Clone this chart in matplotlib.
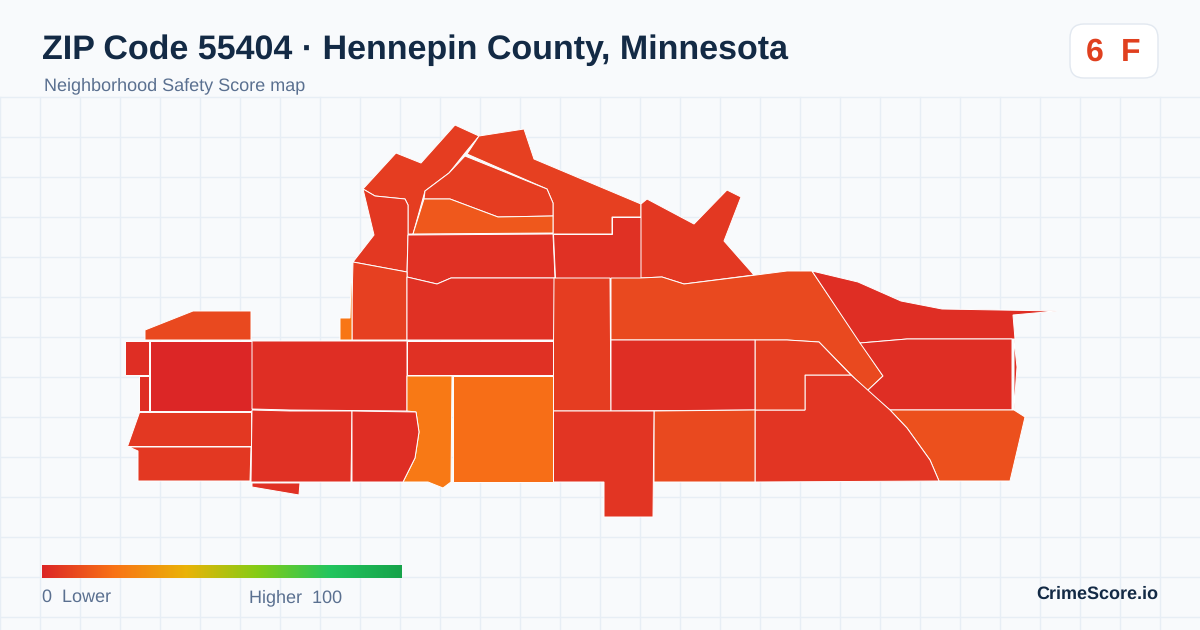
import numpy as np
import matplotlib
matplotlib.use("Agg")
import matplotlib.pyplot as plt
from matplotlib.colors import LinearSegmentedColormap
from matplotlib.patches import FancyBboxPatch, Polygon

plt.rcParams['font.family'] = ['Liberation Sans', 'DejaVu Sans']
plt.rcParams['text.hinting'] = 'none'
plt.rcParams['text.hinting_factor'] = 1

title = "ZIP Code 55404 · Hennepin County, Minnesota"
subtitle = "Neighborhood Safety Score map"
brand = "CrimeScore.io"
zip_score = "6"
zip_grade = "F"

# colour scale of the legend
scale_stops = [0.0, 0.2, 0.4, 0.6, 0.8, 1.0]
scale_colors = ["#dc2626", "#f97316", "#eab308", "#84cc16", "#22c55e", "#16a34a"]

# tract outlines (x, y in image pixels) and their scores
north_west = [(363,189),(396,153),(421,163),(455,125),(479,136),(465,153),(449,173),(425,191),(413,234),(408,234),(408,205),(405,199),(375,196)]
west_upper = [(363,189),(375,196),(405,199),(408,205),(408,234),(407,272),(353,262),(374,235)]
north_top = [(479,136),(524,129),(534,159),(641,204),(641,217),(612,217),(612,234),(553,234),(553,203),(547,189),(467,154)]
north_mid = [(465,156),(547,189),(553,203),(553,216),(498,217),(450,199),(424,199),(425,191),(449,173)]
north_wedge = [(424,199),(450,199),(498,217),(553,216),(553,233),(413,234)]
center_a = [(408,235),(553,234),(555,278),(451,278),(437,284),(407,277)]
center_b = [(553,234),(612,234),(612,217),(641,217),(641,278),(555,278)]
north_east = [(647,199),(641,204),(641,278),(662,277),(684,284),(754,275),(724,241),(741,197),(727,190),(694,224)]
west_mid = [(353,262),(407,272),(407,340),(352,340),(352,300)]
sliver_west = [(340,318),(350,318),(351,282),(352,282),(352,340),(340,340)]
center_c = [(407,277),(437,284),(451,278),(555,278),(555,340),(407,340)]
column = [(554,278),(610,278),(611,411),(553,411)]
long_arm = [(611,278),(640,278),(662,277),(684,284),(756,275),(787,271),(812,271),(883,376),(867,391),(819,342),(787,340),(699,340),(611,340)]
east_top = [(812,271),(858,282),(901,301),(942,309),(1057,311),(1013,315),(1015,339),(907,339),(860,343)]
east_mid = [(860,343),(907,339),(1012,339),(1012,410),(890,410),(867,391),(883,376)]
east_sliver = [(1014,339),(1017,367),(1014,410)]
south_east = [(890,410),(1014,410),(1025,417),(1010,481),(939,481),(930,460),(907,428)]
south_a = [(755,410),(805,410),(805,375),(851,375),(890,410),(907,428),(930,460),(939,481),(755,482)]
south_b = [(755,340),(787,340),(819,342),(851,375),(805,375),(805,410),(755,410)]
south_c = [(611,340),(755,340),(755,410),(611,411)]
south_d = [(654,411),(755,410),(755,482),(654,482)]
south_e = [(553,411),(654,411),(653,517),(604,517),(604,482),(553,482)]
far_west_top = [(145,330),(193,311),(251,311),(251,340),(145,340)]
far_west_a = [(125,341),(149,341),(149,375),(125,375)]
far_west_b = [(139,376),(149,376),(149,411),(139,411)]
far_west_c = [(150,341),(252,341),(252,411),(150,411)]
mid_west_a = [(252,341),(407,341),(407,411),(290,410),(252,409)]
mid_center = [(407,341),(553,341),(553,375),(407,375)]
orange_a = [(407,376),(452,376),(451,482),(443,488),(428,482),(403,482),(415,458),(419,432),(416,412),(407,411)]
orange_b = [(453,376),(553,376),(553,482),(453,482)]
far_west_d = [(139,412),(251,412),(251,446),(127,446)]
far_west_e = [(129,447),(251,447),(250,481),(138,481),(138,451)]
south_west_a = [(252,410),(290,411),(352,411),(351,482),(251,482)]
south_west_b = [(352,411),(416,412),(419,432),(415,458),(403,482),(352,482)]
south_west_c = [(252,483),(300,483),(299,495),(252,487)]

tracts = [north_west, west_upper, north_top, north_mid, north_wedge, center_a, center_b,
          north_east, west_mid, sliver_west, center_c, column, long_arm, east_top, east_mid,
          east_sliver, south_east, south_a, south_b, south_c, south_d, south_e, far_west_top,
          far_west_a, far_west_b, far_west_c, mid_west_a, mid_center, orange_a, orange_b,
          far_west_d, far_west_e, south_west_a, south_west_b, south_west_c]
scores = [6, 5, 7, 6, 13, 3, 3,
          5, 7, 21, 3, 6, 9, 2, 2,
          2, 11, 4, 6, 2, 9, 4, 9,
          2, 2, 0, 2, 3, 22, 19,
          5, 5, 3, 2, 3]

cmap = LinearSegmentedColormap.from_list("score", list(zip(scale_stops, scale_colors)))

fig = plt.figure(figsize=(12, 6.3), dpi=100, facecolor="#f8fafc")
ax = fig.add_axes([0, 0, 1, 1])
ax.set_facecolor("#f8fafc")

# background grid starts below the header
for x in np.arange(0, 1200, 40):
    ax.plot([x, x], [97, 630], color="#e7eef5", lw=1, zorder=1)
for y in np.arange(97, 630, 40):
    ax.plot([0, 1200], [y, y], color="#e7eef5", lw=1, zorder=1)

for outline, score in zip(tracts, scores):
    ax.add_patch(Polygon(outline, closed=True, facecolor=cmap(score / 100), edgecolor="white", lw=0.7, zorder=2))

ax.text(42, 50, title, fontsize=24.45, fontweight="bold", color="#132a45", va="center", zorder=4)
ax.text(44, 85.5, subtitle, fontsize=12.95, color="#5a7090", va="center", zorder=4)

ax.add_patch(FancyBboxPatch((1070, 24), 88, 54, boxstyle="round,pad=0,rounding_size=14", facecolor="white", edgecolor="#e2e8f0", lw=1, zorder=3))
ax.text(1095, 52.5, zip_score, fontsize=23, fontweight="bold", color="#e0401f", ha="center", va="center", zorder=4)
ax.text(1131, 52.5, zip_grade, fontsize=23, fontweight="bold", color="#e0401f", ha="center", va="center", zorder=4)

# legend bar
ax.imshow(np.linspace(0, 1, 256).reshape(1, -1), cmap=cmap, extent=(42, 402, 578, 565), aspect="auto", zorder=3)
ax.text(42, 597.5, "0  Lower", fontsize=12.9, color="#5a7090", va="center", zorder=4)
ax.text(249, 597.5, "Higher  100", fontsize=12.9, color="#5a7090", va="center", zorder=4)
ax.text(1158, 594.5, brand, fontsize=13, fontweight="bold", color="#132a45", ha="right", va="center", zorder=4)

ax.set_xlim(0, 1200)
ax.set_ylim(630, 0)
ax.axis("off")

fig.savefig("out.png", dpi=100, facecolor=fig.get_facecolor())
